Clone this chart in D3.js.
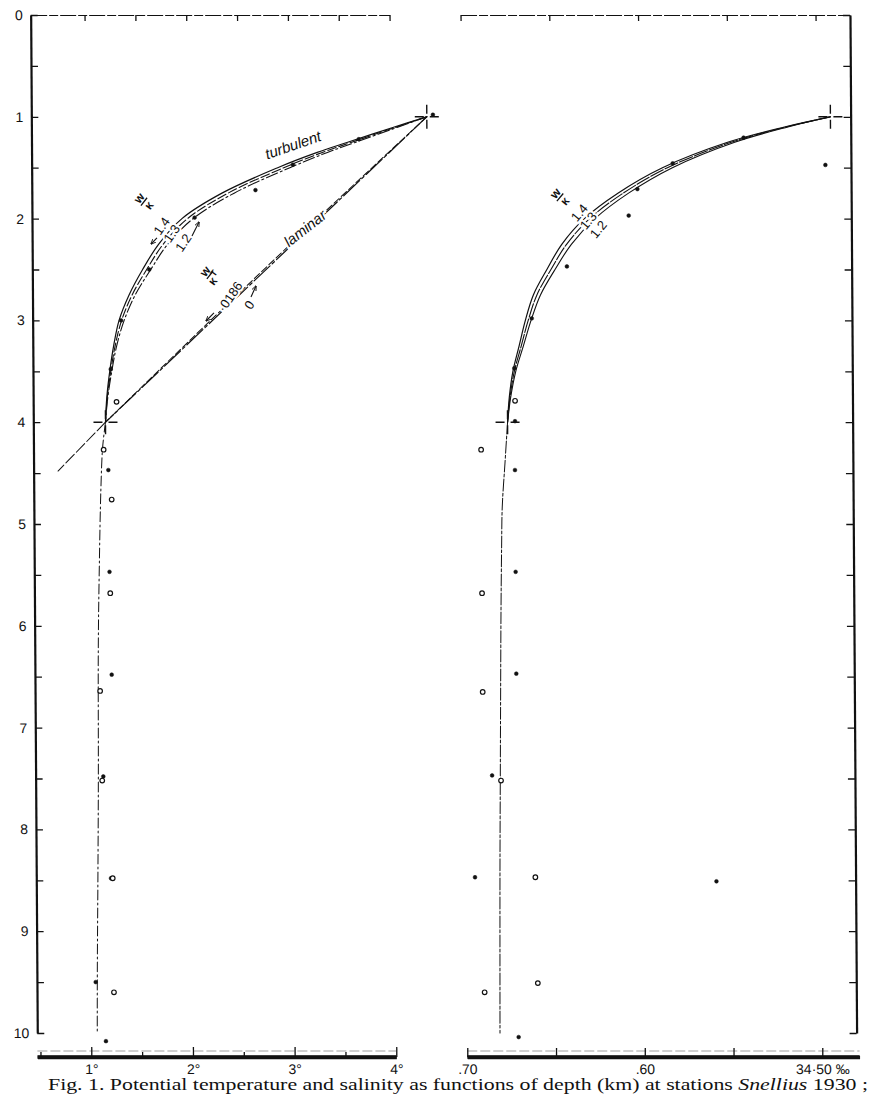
<!DOCTYPE html>
<html><head><meta charset="utf-8">
<script src="https://cdn.jsdelivr.net/npm/d3@7"></script>
<style>html,body{margin:0;padding:0;background:#fff;} svg{display:block;}</style>
</head><body>
<svg id="chart" width="882" height="1094"></svg>
<script>
// ---------------- data (depth in km, potential temperature in °C, salinity in ‰) ----------------
const depthTicks = [0,0.5,1,1.5,2,2.5,3,3.5,4,4.5,5,5.5,6,6.5,7,7.5,8,8.5,9,9.5,10];
const depthLabels = [0,1,2,3,4,5,6,7,8,9,10];
const tempMajorTicks = [1,2,3,4];
const tempMinorTicks = [0.5,1.5,2.5,3.5];
const tempTickLabels = ["1°","2°","3°","4°"];
const tempTopTicks = [1,1.5,2,2.5,3,3.5,4];
const tempAxisExtent = [0.47,4.0];
const salTicks = [34.70,34.65,34.60,34.55,34.50];
const salLabelValues = [34.70,34.60,34.50];
const salTickLabels = [".70",".60","34·50 ‰"];
const salAxisExtent = [34.70,34.4806];
const salBottomExtent = [34.70,34.479];

// turbulent fits (w/κ = 1.4, 1.3, 1.2) : [depth, T]
const tempCurve14 = [[1.0,4.36],[1.1,4.04],[1.25,3.58],[1.35,3.28],[1.5,2.89],[1.75,2.34],[2.0,1.945],[2.25,1.715],[2.5,1.555],[2.75,1.42],[3.0,1.32],[3.25,1.265],[3.5,1.225],[3.75,1.195],[4.0,1.18]];
const tempCurve13 = [[1.0,4.36],[1.1,4.06],[1.25,3.62],[1.35,3.33],[1.5,2.95],[1.75,2.40],[2.0,2.00],[2.25,1.76],[2.5,1.595],[2.75,1.45],[3.0,1.345],[3.25,1.28],[3.5,1.235],[3.75,1.20],[4.0,1.18]];
const tempCurve12 = [[1.0,4.36],[1.1,4.08],[1.25,3.66],[1.35,3.38],[1.5,3.01],[1.75,2.46],[2.0,2.055],[2.25,1.805],[2.5,1.635],[2.75,1.48],[3.0,1.37],[3.25,1.295],[3.5,1.245],[3.75,1.205],[4.0,1.18]];
// laminar (w/κT = 0 and .0186)
const laminar0 = [[1.0,4.36],[4.0,1.18]];
const laminar0186 = [[1.0,4.36],[2.0,3.28],[3.0,2.22],[4.0,1.18]];
const laminarExt = [[4.0,1.18],[4.48,0.71]];
const tempDeep = [[4.0,1.18],[4.25,1.15],[4.67,1.13],[5.42,1.11],[6.2,1.095],[7.5,1.087],[8.5,1.076],[9.35,1.065],[10.0,1.06]];
const tempFilled = [[0.98,4.42],[1.22,3.69],[1.47,3.04],[1.72,2.67],[1.99,2.07],[2.5,1.62],[3.0,1.34],[3.48,1.235],[4.47,1.205],[5.47,1.21],[6.48,1.225],[7.48,1.136],[8.48,1.205],[9.5,1.048],[10.08,1.145]];
const tempOpen = [[3.80,1.29],[4.27,1.16],[4.76,1.236],[5.68,1.216],[6.64,1.11],[7.52,1.125],[8.48,1.222],[9.6,1.227]];
const tempCross = [[1,4.36],[4,1.18]];

// salinity : [depth, S]
const salCurve14 = [[1.0,34.492],[1.1,34.518],[1.25,34.550],[1.5,34.5868],[1.75,34.612],[2.0,34.631],[2.25,34.6437],[2.5,34.6523],[2.75,34.660],[3.0,34.6646],[3.25,34.6682],[3.5,34.6718],[3.75,34.6739],[4.0,34.675]];
const salCurve13 = [[1.0,34.492],[1.1,34.517],[1.25,34.548],[1.5,34.584],[1.75,34.609],[2.0,34.628],[2.25,34.641],[2.5,34.650],[2.75,34.658],[3.0,34.663],[3.25,34.667],[3.5,34.671],[3.75,34.6735],[4.0,34.675]];
const salCurve12 = [[1.0,34.492],[1.1,34.516],[1.25,34.546],[1.5,34.5812],[1.75,34.606],[2.0,34.625],[2.25,34.6383],[2.5,34.6477],[2.75,34.656],[3.0,34.6614],[3.25,34.6658],[3.5,34.6702],[3.75,34.6731],[4.0,34.675]];
const salDeep = [[4.0,34.675],[4.4,34.6766],[4.83,34.6783],[5.22,34.6788],[5.87,34.6794],[6.83,34.680],[7.5,34.6804],[8.37,34.6809],[10.0,34.6815]];
const salFilled = [[1.205,34.541],[1.457,34.581],[1.473,34.495],[1.71,34.601],[1.97,34.606],[2.47,34.641],[2.98,34.661],[3.47,34.671],[3.99,34.6708],[4.47,34.671],[5.47,34.671],[6.47,34.671],[7.47,34.685],[8.47,34.695],[8.51,34.559],[10.04,34.671]];
const salOpen = [[3.79,34.6707],[4.27,34.690],[5.68,34.690],[6.65,34.690],[7.52,34.680],[8.47,34.661],[9.51,34.660],[9.6,34.690]];
const salCross = [[1,34.492],[4,34.675]];

// annotation anchors in data units: [depth, value]
const tempNotes = [
  {text:"turbulent", at:[1.277,3.042], rot:-19, italic:true, size:15},
  {text:"laminar", at:[2.095,3.155], rot:-38, italic:true, size:15},
  {text:"1.4", at:[2.073,1.745], rot:-55, size:13},
  {text:"1.3", at:[2.145,1.843], rot:-55, size:13},
  {text:"1.2", at:[2.237,1.957], rot:-55, size:13},
  {text:"·0186", at:[2.767,2.413], rot:-55, size:13},
  {text:"0", at:[2.849,2.602], rot:-55, size:13}
];
const tempFracs = [{at:[1.834,1.573], sub:"", rot:-52},{at:[2.554,2.217], sub:"T", rot:-52}];
const tempArrows = [[[2.19,1.698],[2.25,1.639]],[[2.171,2.043],[2.033,2.113]],[[2.927,2.254],[3.006,2.175]],[[2.77,2.619],[2.662,2.669]]];
const salNotes = [
  {text:"1.4", at:[1.942,34.6338], rot:-50, size:13},
  {text:"1.3", at:[2.02,34.6288], rot:-50, size:13},
  {text:"1.2", at:[2.105,34.6232], rot:-50, size:13}
];
const salFracs = [{at:[1.791,34.6446], sub:"", rot:-50}];
const captionText = "Fig. 1.  Potential temperature and salinity as functions of depth (km) at stations ";
const captionItalic = "Snellius";
const captionEnd = " 1930 ;";

// ---------------- drawing ----------------
const svg = d3.select("#chart");
const skew = 0.0065, yMid = 547;
const root = svg.append("g")
  .attr("transform", `translate(${-yMid*skew},0) skewX(${Math.atan(skew)*180/Math.PI})`);

const xT = d3.scaleLinear().domain([1,4]).range([88,393]);
const xS = d3.scaleLinear().domain([34.70,34.50]).range([464,819]);
const yD = d3.scaleLinear().domain([0,10]).range([15,1033]);
const bottomY = 1057;
const font = "'Liberation Sans', Arial, sans-serif";
const ink = "#111";

const defs = svg.append("defs");
defs.append("marker").attr("id","ah").attr("viewBox","0 0 10 10").attr("refX",9).attr("refY",5)
  .attr("markerWidth",5).attr("markerHeight",5).attr("orient","auto")
  .append("path").attr("d","M0,1 L10,5 L0,9").attr("fill","none").attr("stroke",ink).attr("stroke-width",1.6);

function styleAxis(g, w){
  g.select(".domain").attr("stroke",ink).attr("stroke-width",w);
  g.selectAll(".tick line").attr("stroke",ink).attr("stroke-width",1.3);
  g.selectAll(".tick text").attr("fill",ink).attr("font-family",font).attr("font-size",14);
}

// ---- left panel axes
const xTfull = xT.copy().domain(tempAxisExtent).range(tempAxisExtent.map(xT));
const leftAx = root.append("g").attr("transform",`translate(${xT(tempAxisExtent[0])},0)`)
  .call(d3.axisLeft(yD).tickValues(depthTicks).tickSize(-7).tickSizeOuter(0).tickPadding(8)
    .tickFormat(d => depthLabels.includes(d) ? d : ""));
styleAxis(leftAx, 2.2);

const topL = root.append("g").attr("transform",`translate(0,${yD(0)})`)
  .call(d3.axisTop(xTfull).tickValues(tempTopTicks).tickSize(-6).tickSizeOuter(0).tickFormat(""));
styleAxis(topL, 1.1);
topL.select(".domain").attr("stroke-dasharray","16,2,9,2");

// bottom temperature scale
root.append("line").attr("x1",xT(tempAxisExtent[0])).attr("x2",xT(tempAxisExtent[1]))
  .attr("y1",bottomY-6).attr("y2",bottomY-6).attr("stroke","#777").attr("stroke-width",0.7).attr("stroke-dasharray","10,3");
root.append("line").attr("x1",xT(tempAxisExtent[0])).attr("x2",xT(tempAxisExtent[1]))
  .attr("y1",bottomY).attr("y2",bottomY).attr("stroke",ink).attr("stroke-width",3.6);
const botL = root.append("g").attr("transform",`translate(0,${bottomY})`)
  .call(d3.axisBottom(xTfull).tickValues(tempMajorTicks).tickSize(-10).tickSizeOuter(0).tickPadding(7)
    .tickFormat((d,i) => tempTickLabels[i]));
styleAxis(botL, 3.6);
const botLm = root.append("g").attr("transform",`translate(0,${bottomY})`)
  .call(d3.axisBottom(xTfull).tickValues(tempMinorTicks).tickSize(-5).tickSizeOuter(0).tickFormat(""));
styleAxis(botLm, 0);
botLm.select(".domain").remove();

// ---- right panel axes
const xSfull = xS.copy().domain(salAxisExtent).range(salAxisExtent.map(xS));
const rightAx = root.append("g").attr("transform",`translate(${xS(salAxisExtent[1])},0)`)
  .call(d3.axisRight(yD).tickValues(depthTicks).tickSize(-7).tickSizeOuter(0).tickFormat(""));
styleAxis(rightAx, 2.2);
const topR = root.append("g").attr("transform",`translate(0,${yD(0)})`)
  .call(d3.axisTop(xSfull).tickValues(salTicks).tickSize(-6).tickSizeOuter(0).tickFormat(""));
styleAxis(topR, 1.1);
topR.select(".domain").attr("stroke-dasharray","16,2,9,2");

const xSbot = xS.copy().domain(salBottomExtent).range(salBottomExtent.map(xS));
root.append("line").attr("x1",xS(salBottomExtent[0])).attr("x2",xS(salBottomExtent[1]))
  .attr("y1",bottomY-6).attr("y2",bottomY-6).attr("stroke","#777").attr("stroke-width",0.7).attr("stroke-dasharray","10,3");
root.append("line").attr("x1",xS(salBottomExtent[0])).attr("x2",xS(salBottomExtent[1]))
  .attr("y1",bottomY).attr("y2",bottomY).attr("stroke",ink).attr("stroke-width",3.6);
const botR = root.append("g").attr("transform",`translate(0,${bottomY})`)
  .call(d3.axisBottom(xSbot).tickValues(salTicks).tickSize(-9).tickSizeOuter(0).tickPadding(7)
    .tickFormat(d => { const i = salLabelValues.findIndex(v => Math.abs(v-d)<1e-9); return i<0 ? "" : salTickLabels[i]; }));
styleAxis(botR, 3.6);

// ---- lines
const lineT = d3.line().x(d => xT(d[1])).y(d => yD(d[0])).curve(d3.curveCatmullRom.alpha(0.5));
const lineS = d3.line().x(d => xS(d[1])).y(d => yD(d[0])).curve(d3.curveCatmullRom.alpha(0.5));
function drawLine(data, gen, w, dash){
  root.append("path").datum(data).attr("d",gen).attr("fill","none").attr("stroke",ink)
    .attr("stroke-width",w).attr("stroke-dasharray",dash||null).attr("stroke-linecap","round");
}
drawLine(tempCurve14, lineT, 1.2, null);
drawLine(tempCurve13, lineT, 1.1, "9,3");
drawLine(tempCurve12, lineT, 1.1, "12,3,2,3");
drawLine(laminar0, lineT, 1.2, "22,3,3,3");
drawLine(laminar0186, lineT, 1.0, "7,3");
drawLine(laminarExt, lineT, 1.0, "12,3");
drawLine(tempDeep, lineT, 1.0, "10,3,2,3");

drawLine(salCurve14, lineS, 1.2, null);
drawLine(salCurve13, lineS, 1.1, "14,2");
drawLine(salCurve12, lineS, 1.1, null);
drawLine(salDeep, lineS, 1.0, "12,2,3,2");

// ---- crosshairs
function cross(x, y){
  const a = 12, g = 3;
  root.append("path").attr("d",`M${x-a},${y}H${x-g}M${x+g},${y}H${x+a}M${x},${y-a}V${y-g}M${x},${y+g}V${y+a}`)
    .attr("stroke",ink).attr("stroke-width",1.4).attr("fill","none");
}
tempCross.forEach(d => cross(xT(d[1]), yD(d[0])));
salCross.forEach(d => cross(xS(d[1]), yD(d[0])));

// ---- points
function dots(data, sx, open){
  root.selectAll(null).data(data).enter().append("circle")
    .attr("cx", d => sx(d[1])).attr("cy", d => yD(d[0]))
    .attr("r", open ? 2.3 : 1.9)
    .attr("fill", open ? "#fff" : ink).attr("stroke", ink).attr("stroke-width", open ? 1.2 : 0.5);
}
dots(tempFilled, xT, false); dots(tempOpen, xT, true);
dots(salFilled, xS, false); dots(salOpen, xS, true);

// ---- annotations
function note(n, sx){
  root.append("text").attr("transform",`translate(${sx(n.at[1])},${yD(n.at[0])}) rotate(${n.rot})`)
    .attr("text-anchor","middle").attr("dy","0.35em")
    .attr("font-family",font).attr("font-size",n.size).attr("font-style",n.italic?"italic":"normal")
    .attr("fill",ink).attr("stroke","#fff").attr("stroke-width",4).attr("paint-order","stroke")
    .text(n.text);
}
tempNotes.forEach(n => note(n, xT));
salNotes.forEach(n => note(n, xS));
function frac(f, sx){
  const g = root.append("g").attr("transform",`translate(${sx(f.at[1])},${yD(f.at[0])}) rotate(${f.rot})`);
  g.append("rect").attr("x",-9).attr("y",-11).attr("width",18).attr("height",23).attr("fill","#fff");
  g.append("text").attr("y",-2).attr("text-anchor","middle").attr("font-family",font).attr("font-size",12)
    .attr("font-weight","bold").attr("fill",ink).text("w");
  g.append("line").attr("x1",-5).attr("x2",5).attr("y1",0).attr("y2",0).attr("stroke",ink).attr("stroke-width",1.3);
  const t = g.append("text").attr("y",10).attr("text-anchor","middle").attr("font-family",font).attr("font-size",12)
    .attr("font-weight","bold").attr("fill",ink).text("κ");
  if (f.sub) t.append("tspan").attr("font-size",9).attr("dy",-5).attr("dx",1).text(f.sub);
}
tempFracs.forEach(f => frac(f, xT));
salFracs.forEach(f => frac(f, xS));
tempArrows.forEach(a => {
  root.append("line").attr("x1",xT(a[0][1])).attr("y1",yD(a[0][0])).attr("x2",xT(a[1][1])).attr("y2",yD(a[1][0]))
    .attr("stroke",ink).attr("stroke-width",1.1).attr("marker-end","url(#ah)");
});

// ---- caption (kept inside the page)
const cap = svg.append("text").attr("x",48).attr("y",1090).attr("font-family","'Liberation Serif', 'Times New Roman', serif")
  .attr("font-size",16).attr("fill",ink).attr("textLength",820).attr("lengthAdjust","spacingAndGlyphs");
cap.append("tspan").text(captionText);
cap.append("tspan").attr("font-style","italic").text(captionItalic);
cap.append("tspan").text(captionEnd);
</script>
</body></html>
